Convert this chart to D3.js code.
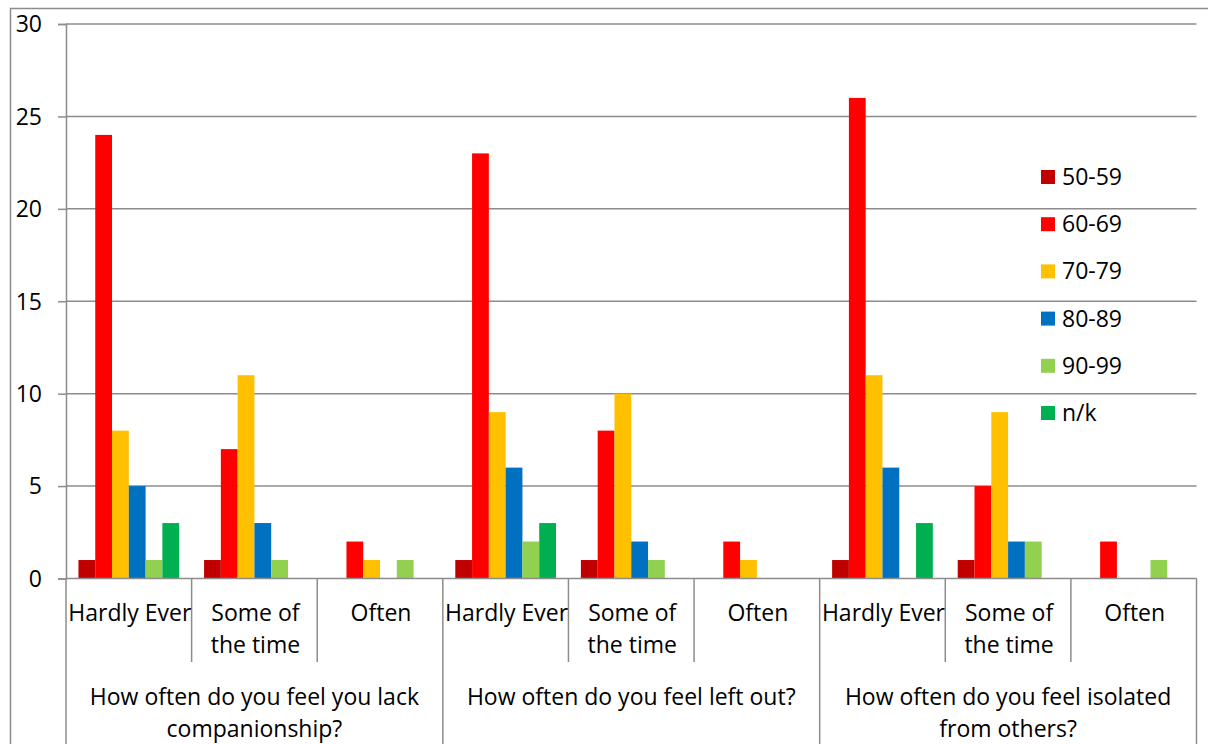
<!DOCTYPE html>
<html>
<head>
<meta charset="utf-8">
<script src="https://cdn.jsdelivr.net/npm/d3@7/dist/d3.min.js"></script>
<style>
  html, body { margin: 0; padding: 0; background: #fff; }
  svg { display: block; font-family: "Open Sans", "Noto Sans", sans-serif; }
</style>
</head>
<body>
<svg id="chart" width="1208" height="744"></svg>
<script>
// Survey questions (outer category level) and answers (inner level)
const questions = [
  ["How often do you feel you lack", "companionship?"],
  ["How often do you feel left out?"],
  ["How often do you feel isolated", "from others?"]
];
const answerLines = [["Hardly Ever"], ["Some of", "the time"], ["Often"]];

// Age bands (series)
const ageBands = ["50-59", "60-69", "70-79", "80-89", "90-99", "n/k"];
const bandColors = ["#C00000", "#FF0000", "#FFC000", "#0070C0", "#92D050", "#00B050"];

// Counts per age band, one value per question/answer, in order
const s5059 = [1, 1, 0, 1, 1, 0, 1, 1, 0];
const s6069 = [24, 7, 2, 23, 8, 2, 26, 5, 2];
const s7079 = [8, 11, 1, 9, 10, 1, 11, 9, 0];
const s8089 = [5, 3, 0, 6, 2, 0, 6, 2, 0];
const s9099 = [1, 1, 1, 2, 1, 0, 0, 2, 1];
const sNK   = [3, 0, 0, 3, 0, 0, 3, 0, 0];
const seriesValues = [s5059, s6069, s7079, s8089, s9099, sNK];

const yTicks = [0, 5, 10, 15, 20, 25, 30];

const svg = d3.select("#chart");
const plotLeft = 66, plotRight = 1196.5, plotTop = 24, plotBottom = 578.5;
const gridColor = "#8c8c8c";
const fontSize = 23;

// Category keys: question index + answer index
const cats = [];
questions.forEach((q, qi) => answerLines.forEach((a, ai) => cats.push(qi + "-" + ai)));

const x0 = d3.scaleBand().domain(cats).range([plotLeft, plotRight]).paddingInner(0).paddingOuter(0);
const catW = x0.bandwidth();
const innerPad = 12.45;
const x1 = d3.scaleBand().domain(ageBands).range([innerPad, catW - innerPad]);
const y = d3.scaleLinear().domain([0, 30]).range([plotBottom, plotTop]);

// Outer chart border
svg.append("path")
  .attr("d", `M10.5,744 V8.5 H1208`)
  .attr("fill", "none").attr("stroke", gridColor).attr("stroke-width", 1.5);

// Horizontal gridlines
svg.append("g").selectAll("line").data(yTicks.filter(t => t > 0)).join("line")
  .attr("x1", plotLeft).attr("x2", plotRight)
  .attr("y1", d => y(d)).attr("y2", d => y(d))
  .attr("stroke", gridColor).attr("stroke-width", 1.5);

// Y axis
const yAxis = d3.axisLeft(y).tickValues(yTicks).tickSize(8).tickPadding(16);
const gy = svg.append("g").attr("transform", `translate(${plotLeft},0)`).call(yAxis);
gy.select(".domain").attr("stroke", gridColor).attr("stroke-width", 1.5);
gy.selectAll(".tick line").attr("stroke", gridColor).attr("stroke-width", 1.5);
gy.selectAll(".tick text").attr("font-size", fontSize).attr("fill", "#000")
  .attr("font-family", "'Open Sans', sans-serif").attr("dy", "0.34em");

// Bars
const barG = svg.append("g");
seriesValues.forEach((vals, si) => {
  barG.append("g").selectAll("rect")
    .data(vals.map((v, i) => ({ v, c: cats[i] })).filter(d => d.v > 0))
    .join("rect")
    .attr("x", d => x0(d.c) + x1(ageBands[si]))
    .attr("width", x1.bandwidth())
    .attr("y", d => y(d.v))
    .attr("height", d => y(0) - y(d.v))
    .attr("fill", bandColors[si]);
});

// Category axis baseline
svg.append("line").attr("x1", plotLeft).attr("x2", plotRight).attr("y1", plotBottom).attr("y2", plotBottom)
  .attr("stroke", gridColor).attr("stroke-width", 1.5);

// Inner-level and outer-level separators
const axisG = svg.append("g");
cats.forEach((c, i) => {
  const xs = x0(c);
  const isGroup = i % 3 === 0;
  axisG.append("line").attr("x1", xs).attr("x2", xs)
    .attr("y1", plotBottom).attr("y2", isGroup ? 744 : 662)
    .attr("stroke", gridColor).attr("stroke-width", 1.5);
});
axisG.append("line").attr("x1", plotRight).attr("x2", plotRight)
  .attr("y1", plotBottom).attr("y2", 744)
  .attr("stroke", gridColor).attr("stroke-width", 1.5);

// Answer labels
cats.forEach((c, i) => {
  const lines = answerLines[i % 3];
  const t = axisG.append("text").attr("text-anchor", "middle")
    .attr("font-size", fontSize).attr("fill", "#000");
  lines.forEach((ln, li) => {
    t.append("tspan").attr("x", x0(c) + catW / 2 + 1).attr("y", 621 + li * 32).text(ln);
  });
});

// Question labels
questions.forEach((q, qi) => {
  const cx = x0(qi + "-0") + catW * 1.5;
  const t = axisG.append("text").attr("text-anchor", "middle")
    .attr("font-size", fontSize).attr("fill", "#000");
  q.forEach((ln, li) => {
    t.append("tspan").attr("x", cx).attr("y", 705 + li * 32).text(ln);
  });
});

// Legend
const legend = svg.append("g");
ageBands.forEach((b, i) => {
  const ty = 170 + i * 47.2;
  legend.append("rect").attr("x", 1041).attr("y", ty).attr("width", 14).attr("height", 14)
    .attr("fill", bandColors[i]);
  legend.append("text").attr("x", 1062).attr("y", ty + 15)
    .attr("font-size", fontSize).attr("fill", "#000").text(b);
});
</script>
</body>
</html>
